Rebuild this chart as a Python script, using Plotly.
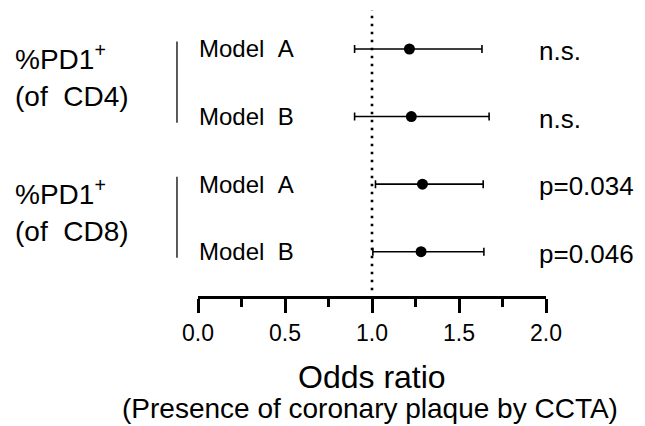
import plotly.graph_objects as go

# ---- data ----
models = ["Model\u00a0\u00a0A", "Model\u00a0\u00a0B", "Model\u00a0\u00a0A", "Model\u00a0\u00a0B"]
odds_ratio = [1.215, 1.226, 1.29, 1.282]
ci_low = [0.90, 0.90, 1.02, 1.005]
ci_high = [1.632, 1.673, 1.639, 1.643]
p_labels = ["n.s.", "n.s.", "p=0.034", "p=0.046"]
group_line1 = ["%PD1<sup>+</sup>", "%PD1<sup>+</sup>"]
group_line2 = ["(of\u00a0\u00a0CD4)", "(of\u00a0\u00a0CD8)"]
group_rows = [(0, 1), (2, 3)]
tick_vals = [0.0, 0.5, 1.0, 1.5, 2.0]
minor_tick_vals = [0.25, 0.75, 1.25, 1.75]
rows = list(range(len(models)))

# page body has an 8px default margin; lay out in window pixels and compensate
OFF = 8
W, H = 645 - OFF, 426 - OFF
L, R, T, B = 198 - OFF, 99.3, 10 - OFF, 130
PW, PH = W - L - R, H - T - B
FONT = "Liberation Sans, Arial, sans-serif"

def px_x(px):          # window px -> paper x
    return (px - OFF - L) / PW

def px_y(py):          # window px -> paper y
    return (H - B - (py - OFF)) / PH

fig = go.Figure()
fig.add_trace(go.Scatter(
    x=odds_ratio, y=rows, mode="markers",
    marker=dict(size=11, color="black"),
    error_x=dict(type="data", symmetric=False,
                 array=[h - o for h, o in zip(ci_high, odds_ratio)],
                 arrayminus=[o - l for o, l in zip(odds_ratio, ci_low)],
                 thickness=1.6, width=4, color="black"),
    showlegend=False, hoverinfo="skip", cliponaxis=False,
))

# reference line at OR = 1
fig.add_shape(type="line", xref="x", yref="paper", x0=1, x1=1, y0=0.02, y1=1,
              line=dict(color="black", width=2.6, dash="2.6px,5.4px"), layer="below")

annotations = []
for r, m, p in zip(rows, models, p_labels):
    annotations.append(dict(x=px_x(197), xref="paper", y=r, yref="y", text=m,
                            xanchor="left", yanchor="middle", showarrow=False,
                            font=dict(size=24, color="black", family=FONT)))
    annotations.append(dict(x=px_x(537), xref="paper", y=r + 0.03, yref="y", text=p,
                            xanchor="left", yanchor="middle", showarrow=False,
                            font=dict(size=26, color="black", family=FONT)))

for (r0, r1), l1, l2 in zip(group_rows, group_line1, group_line2):
    mid = (r0 + r1) / 2
    annotations.append(dict(x=px_x(13), xref="paper", y=mid - 0.385, yref="y", text=l1,
                            xanchor="left", yanchor="middle", showarrow=False,
                            font=dict(size=28, color="black", family=FONT)))
    annotations.append(dict(x=px_x(13), xref="paper", y=mid + 0.2, yref="y", text=l2,
                            xanchor="left", yanchor="middle", showarrow=False,
                            font=dict(size=28, color="black", family=FONT)))
    fig.add_shape(type="line", xref="paper", yref="y", x0=px_x(177), x1=px_x(177),
                  y0=r0 - 0.11, y1=r1 + 0.09, line=dict(color="#333", width=1.6))

annotations.append(dict(x=1.0, xref="x", y=px_y(377), yref="paper", text="Odds ratio",
                        xanchor="center", yanchor="middle", showarrow=False,
                        font=dict(size=32, color="black", family=FONT)))
annotations.append(dict(x=px_x(370), xref="paper", y=px_y(409), yref="paper",
                        text="(Presence of coronary plaque by CCTA)",
                        xanchor="center", yanchor="middle", showarrow=False,
                        font=dict(size=28, color="black", family=FONT)))

fig.update_layout(
    width=W, height=H,
    margin=dict(l=L, r=R, t=T, b=B, pad=0),
    paper_bgcolor="white", plot_bgcolor="white",
    font=dict(family=FONT, color="black"),
    annotations=annotations,
    xaxis=dict(range=[0, 2], tickvals=tick_vals, tickformat=".1f",
               showline=True, linewidth=3, linecolor="black",
               ticks="outside", ticklen=14, tickwidth=3, tickcolor="black",
               minor=dict(tickvals=minor_tick_vals, ticks="outside", ticklen=8,
                          tickwidth=3, tickcolor="black"),
               showgrid=False, zeroline=False,
               tickfont=dict(size=23, color="black", family=FONT)),
    yaxis=dict(range=[3.655, -0.577], visible=False, showgrid=False, zeroline=False),
)

fig.write_html("out.html")
